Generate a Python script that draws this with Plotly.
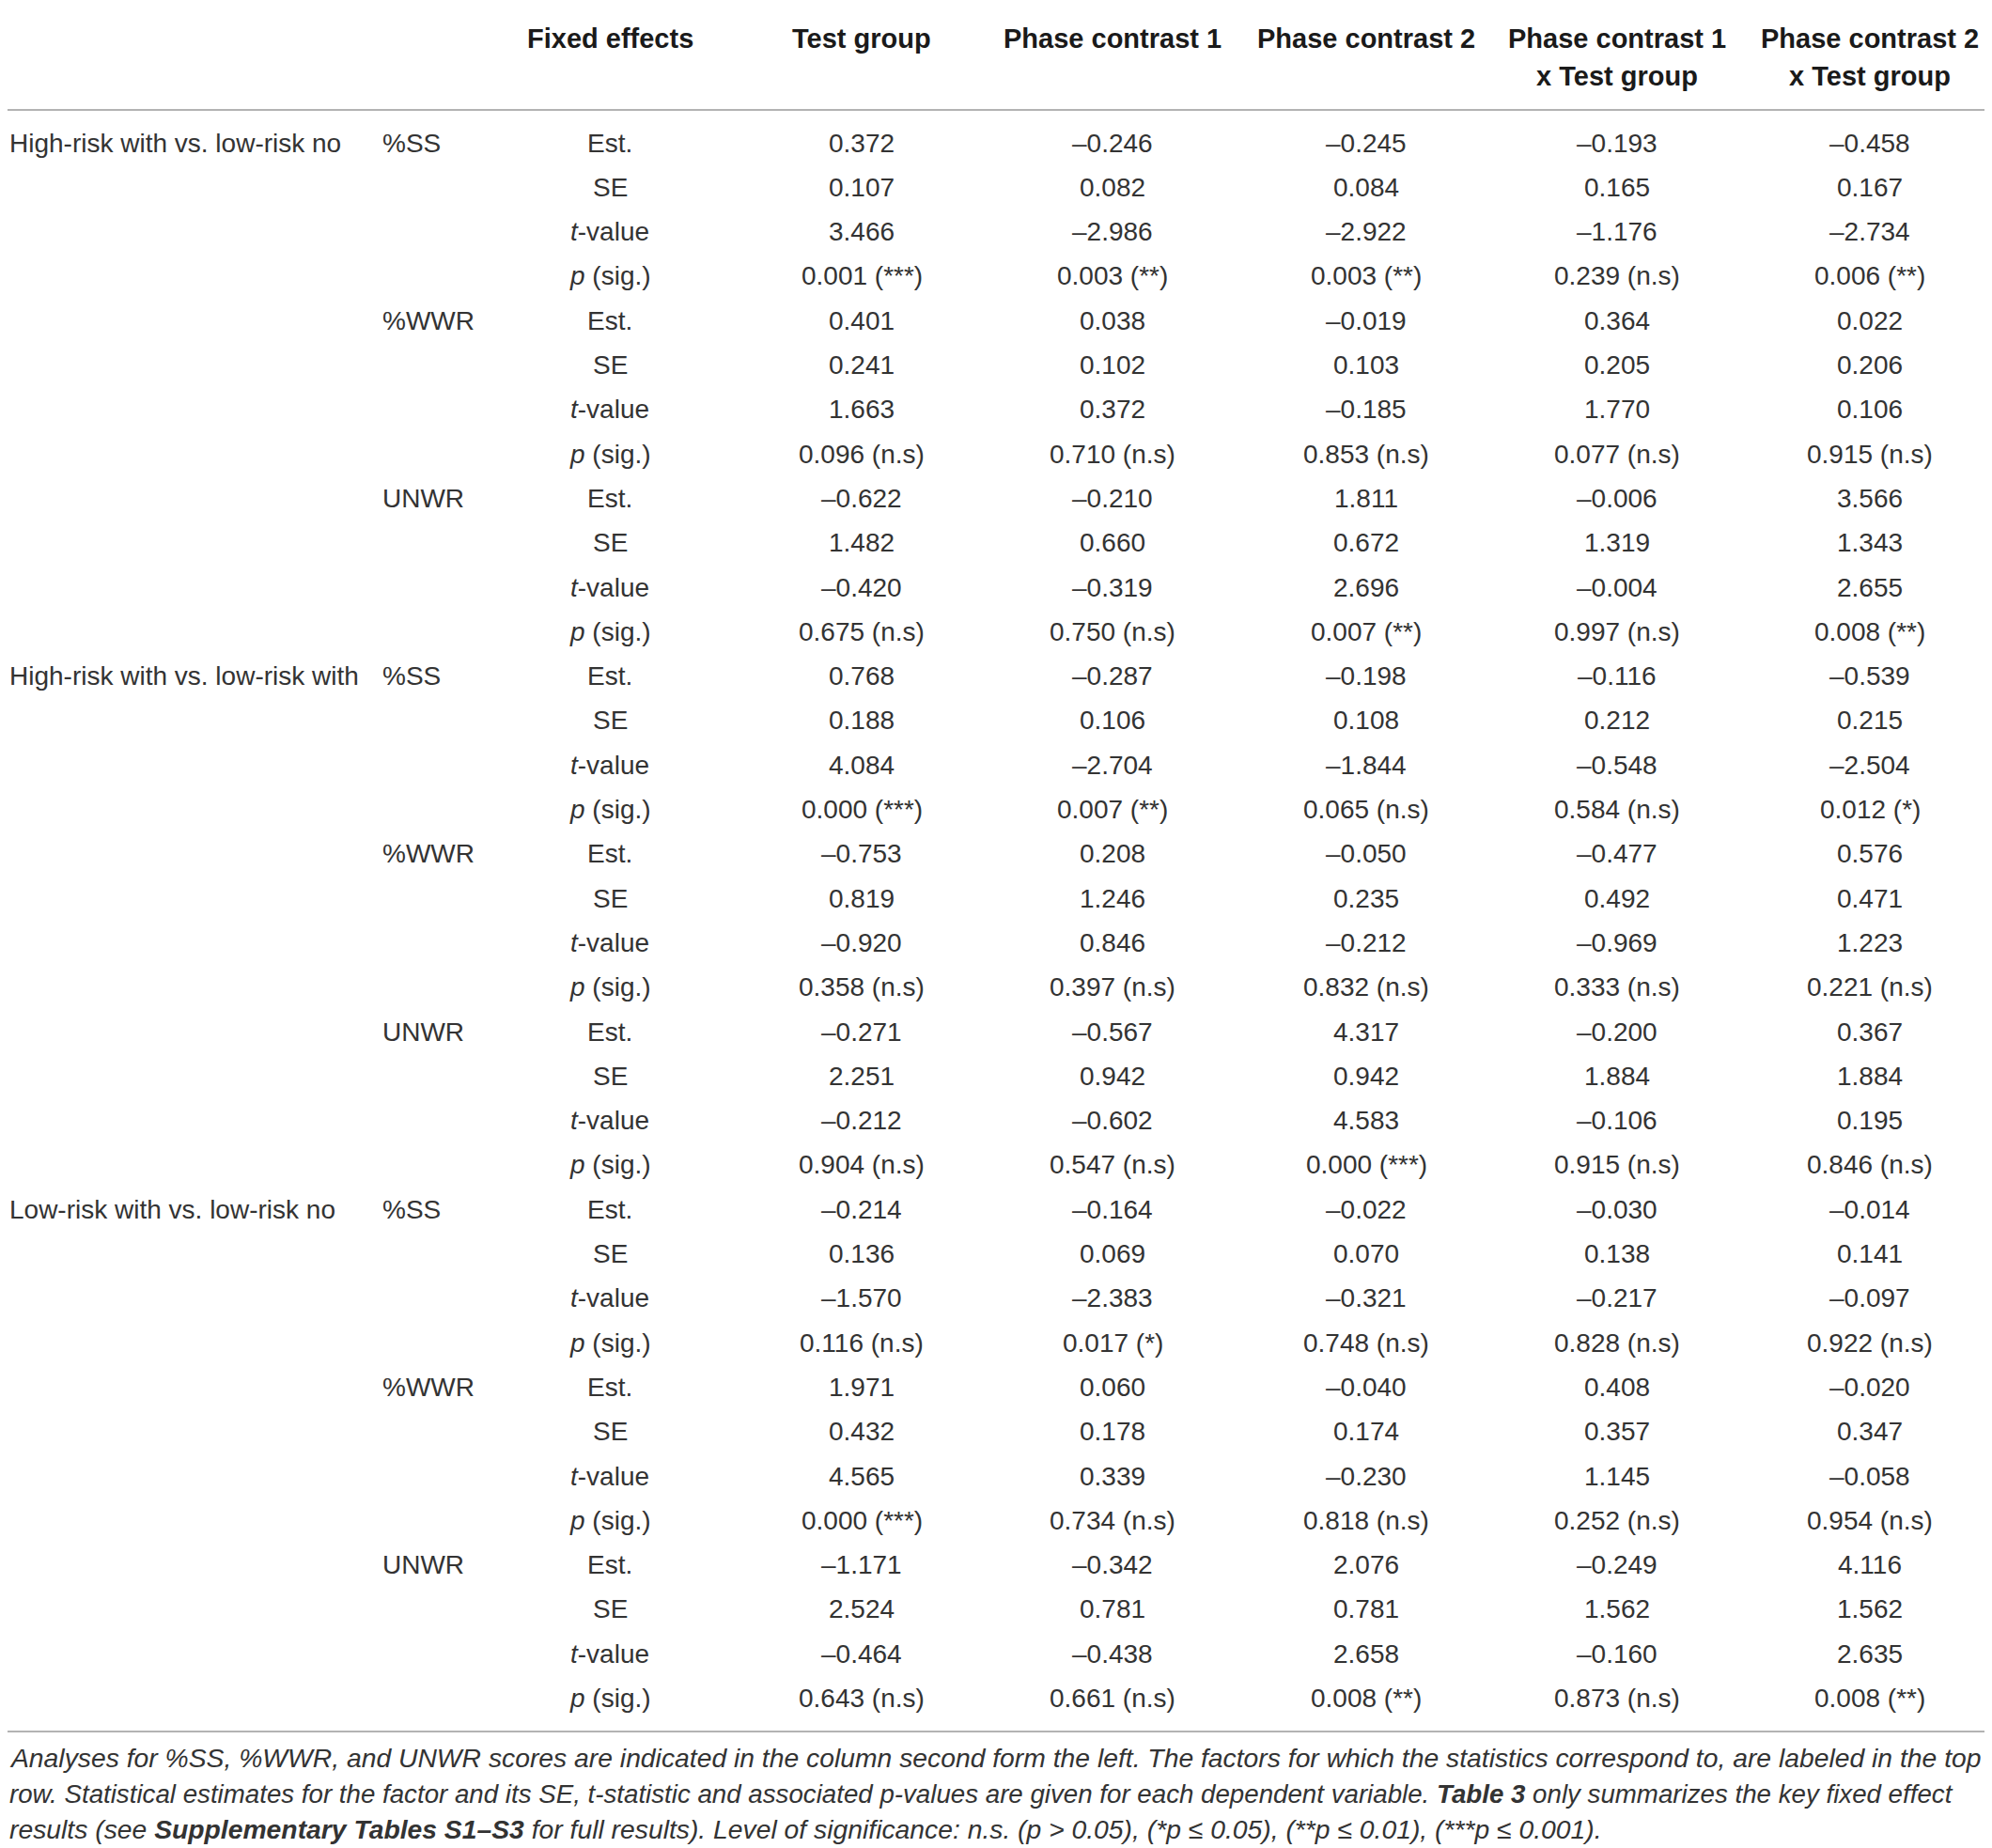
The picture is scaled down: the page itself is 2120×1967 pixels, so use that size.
import plotly.graph_objects as go

# ---- table content ----
comparisons = ["High-risk with vs. low-risk no",
               "High-risk with vs. low-risk with",
               "Low-risk with vs. low-risk no"]
measures = ["%SS", "%WWR", "UNWR"]
stat_labels = ["Est.", "SE", "<i>t</i>-value", "<i>p</i> (sig.)"]
head_top = ["Fixed effects", "Test group", "Phase contrast 1", "Phase contrast 2",
            "Phase contrast 1", "Phase contrast 2"]
head_bottom = ["", "", "", "", "x Test group", "x Test group"]

# one row per comparison x measure block, columns = the five factors
est = [[0.372, -0.246, -0.245, -0.193, -0.458],
       [0.401, 0.038, -0.019, 0.364, 0.022],
       [-0.622, -0.210, 1.811, -0.006, 3.566],
       [0.768, -0.287, -0.198, -0.116, -0.539],
       [-0.753, 0.208, -0.050, -0.477, 0.576],
       [-0.271, -0.567, 4.317, -0.200, 0.367],
       [-0.214, -0.164, -0.022, -0.030, -0.014],
       [1.971, 0.060, -0.040, 0.408, -0.020],
       [-1.171, -0.342, 2.076, -0.249, 4.116]]
se = [[0.107, 0.082, 0.084, 0.165, 0.167],
      [0.241, 0.102, 0.103, 0.205, 0.206],
      [1.482, 0.660, 0.672, 1.319, 1.343],
      [0.188, 0.106, 0.108, 0.212, 0.215],
      [0.819, 1.246, 0.235, 0.492, 0.471],
      [2.251, 0.942, 0.942, 1.884, 1.884],
      [0.136, 0.069, 0.070, 0.138, 0.141],
      [0.432, 0.178, 0.174, 0.357, 0.347],
      [2.524, 0.781, 0.781, 1.562, 1.562]]
tval = [[3.466, -2.986, -2.922, -1.176, -2.734],
        [1.663, 0.372, -0.185, 1.770, 0.106],
        [-0.420, -0.319, 2.696, -0.004, 2.655],
        [4.084, -2.704, -1.844, -0.548, -2.504],
        [-0.920, 0.846, -0.212, -0.969, 1.223],
        [-0.212, -0.602, 4.583, -0.106, 0.195],
        [-1.570, -2.383, -0.321, -0.217, -0.097],
        [4.565, 0.339, -0.230, 1.145, -0.058],
        [-0.464, -0.438, 2.658, -0.160, 2.635]]
pval = [[0.001, 0.003, 0.003, 0.239, 0.006],
        [0.096, 0.710, 0.853, 0.077, 0.915],
        [0.675, 0.750, 0.007, 0.997, 0.008],
        [0.000, 0.007, 0.065, 0.584, 0.012],
        [0.358, 0.397, 0.832, 0.333, 0.221],
        [0.904, 0.547, 0.000, 0.915, 0.846],
        [0.116, 0.017, 0.748, 0.828, 0.922],
        [0.000, 0.734, 0.818, 0.252, 0.954],
        [0.643, 0.661, 0.008, 0.873, 0.008]]
sig = [["***", "**", "**", "n.s", "**"],
       ["n.s", "n.s", "n.s", "n.s", "n.s"],
       ["n.s", "n.s", "**", "n.s", "**"],
       ["***", "**", "n.s", "n.s", "*"],
       ["n.s", "n.s", "n.s", "n.s", "n.s"],
       ["n.s", "n.s", "***", "n.s", "n.s"],
       ["n.s", "*", "n.s", "n.s", "n.s"],
       ["***", "n.s", "n.s", "n.s", "n.s"],
       ["n.s", "n.s", "**", "n.s", "**"]]

caption = [
    "Analyses for %SS, %WWR, and UNWR scores are indicated in the column second form the left. "
    "The factors for which the statistics correspond to, are labeled in the top",
    "row. Statistical estimates for the factor and its SE, t-statistic and associated p-values are given "
    "for each dependent variable. <b>Table 3</b> only summarizes the key fixed effect",
    "results (see <b>Supplementary Tables S1–S3</b> for full results). Level of significance: n.s. "
    "(p > 0.05), (*p ≤ 0.05), (**p ≤ 0.01), (***p ≤ 0.001).",
]

# ---- layout (positions in page pixels) ----
W, H = 2120, 1967
PAGE = 8                        # default body margin of the html page
ROW0, ROWH = 152, 47.3          # pixel centre of first body row, row pitch
col_x = [649, 917, 1184, 1454, 1721, 1990]
x_comp, x_meas = 8, 405
FONT = "Liberation Sans"
TXT = "#333333"


def py(p):
    # pixel y -> row units
    return (p - ROW0) / ROWH


def fmt(v):
    return f"{v:.3f}".replace("-", "–")


body = dict(family=FONT, size=28, color=TXT)
head = dict(family=FONT, size=29, color="#1a1a1a")

ann = []
for j, x in enumerate(col_x):
    ann.append(dict(x=x, y=py(41), text="<b>%s</b>" % head_top[j], font=head))
    if head_bottom[j]:
        ann.append(dict(x=x, y=py(81), text="<b>%s</b>" % head_bottom[j], font=head))

for b in range(len(est)):
    r0 = b * 4
    if b % 3 == 0:
        ann.append(dict(x=x_comp, y=r0, text=comparisons[b // 3], font=body, xanchor="left"))
    ann.append(dict(x=x_meas, y=r0, text=measures[b % 3], font=body, xanchor="left"))
    for k in range(4):
        ann.append(dict(x=col_x[0], y=r0 + k, text=stat_labels[k], font=body))
    for j in range(5):
        cells = [fmt(est[b][j]), fmt(se[b][j]), fmt(tval[b][j]),
                 "%s (%s)" % (fmt(pval[b][j]), sig[b][j])]
        for k in range(4):
            ann.append(dict(x=col_x[j + 1], y=r0 + k, text=cells[k], font=body))

cap_sizes = [28.3, 27.7, 28.3]
for i, line in enumerate(caption):
    ann.append(dict(x=x_comp, y=py(1871 + i * 38), text="<i>%s</i>" % line,
                    font=dict(family=FONT, size=cap_sizes[i], color=TXT), xanchor="left"))

for a in ann:
    a.setdefault("xanchor", "center")
    a.update(xref="x", yref="y", showarrow=False, yanchor="middle")

rule = dict(color="#9a9a9a", width=1.6)
shapes = [dict(type="line", xref="x", yref="y", x0=4, x1=2116, y0=py(p), y1=py(p), line=rule)
          for p in (5.5, 117, 1843)]

fig = go.Figure(go.Scatter(x=[], y=[]))
fig.update_layout(
    width=W, height=H, margin=dict(l=0, r=0, t=0, b=0),
    paper_bgcolor="white", plot_bgcolor="white",
    xaxis=dict(range=[PAGE, W + PAGE], visible=False, fixedrange=True),
    yaxis=dict(range=[py(H + PAGE), py(PAGE)], visible=False, fixedrange=True),
    annotations=ann, shapes=shapes, showlegend=False,
)
fig.write_html("out.html")
